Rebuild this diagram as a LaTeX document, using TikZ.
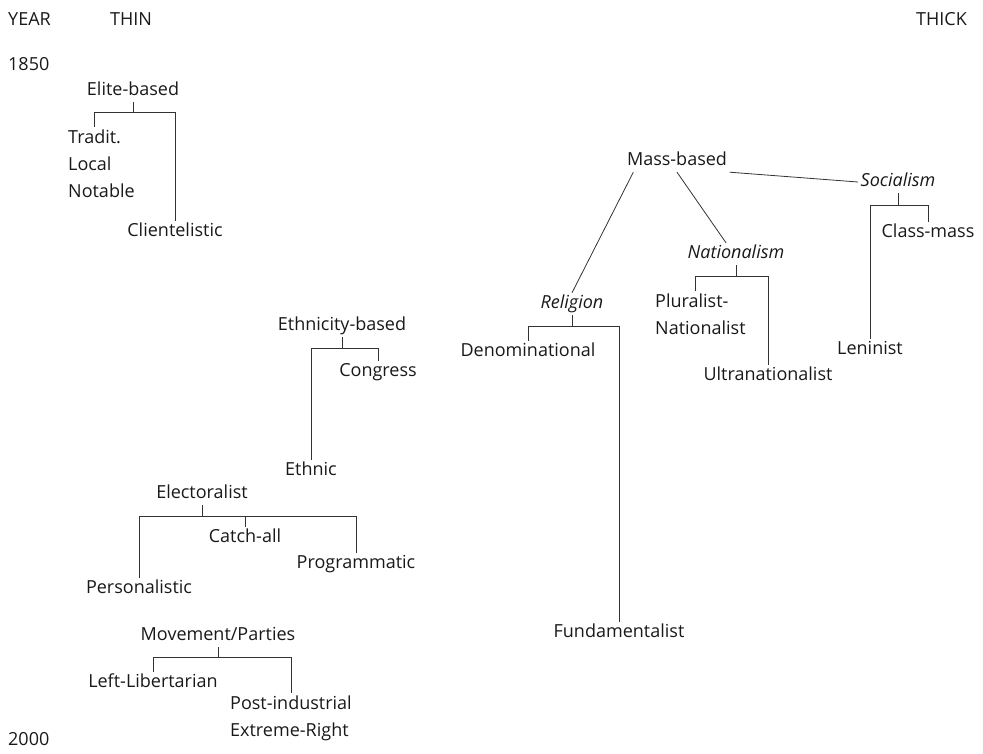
\documentclass[tikz,border=0pt]{standalone}
\usepackage{fontspec}
\setmainfont{Open Sans}

\begin{document}
\begin{tikzpicture}[
    x=1pt, y=-1pt,
    lab/.style={inner sep=2.5pt, text height=13pt, text depth=4pt, font=\fontsize{18}{27}\selectfont, text=black!90},
    labm/.style={inner sep=2.5pt, align=left, anchor=north west, font=\fontsize{18}{27}\selectfont, text=black!90},
    link/.style={draw=black!80, line width=0.8pt}
]
    \useasboundingbox (0,0) rectangle (983,753);

    % Axis labels
    \node[lab, anchor=west] (year) at (5.5,21) {YEAR};
    \node[lab, anchor=west] (thin) at (107.5,21) {THIN};
    \node[lab, anchor=east] (thick) at (969.5,21) {THICK};
    \node[lab, anchor=west] (start) at (5.5,66) {1850};
    \node[lab, anchor=west] (stop) at (5.5,741) {2000};

    % Elite-based
    \node[lab] (elite) at (133,91) {Elite-based};
    \node[labm] (trad) at (65.5,127) {Tradit.\\Local\\Notable};
    \node[lab] (clien) at (175,232) {Clientelistic};

    % Ethnicity-based
    \node[lab] (ethnb) at (342,326) {Ethnicity-based};
    \node[lab] (congr) at (378,372) {Congress};
    \node[lab] (ethnic) at (311,471) {Ethnic};

    % Electoralist
    \node[lab] (elect) at (202,494) {Electoralist};
    \node[lab] (catch) at (245,538) {Catch-all};
    \node[lab] (progr) at (356,564) {Programmatic};
    \node[lab] (perso) at (139,589) {Personalistic};

    % Movement parties
    \node[lab] (movem) at (218,636) {Movement/Parties};
    \node[lab] (leftl) at (153,683) {Left-Libertarian};
    \node[labm] (posti) at (227.5,693) {Post-industrial\\Extreme-Right};

    % Mass-based
    \node[lab] (mass) at (677,161) {Mass-based};
    \node[lab] (relig) at (572,304) {\itshape Religion};
    \node[lab] (denom) at (528,352) {Denominational};
    \node[lab] (funda) at (619,633) {Fundamentalist};
    \node[lab] (natio) at (736,254) {\itshape Nationalism};
    \node[labm] (plura) at (652.5,291) {Pluralist-\\Nationalist};
    \node[lab] (ultra) at (768,376) {Ultranationalist};
    \node[lab] (socia) at (898,182) {\itshape Socialism};
    \node[lab] (class) at (928,233) {Class-mass};
    \node[lab] (lenin) at (870,350) {Leninist};

    % Brackets
    \draw[link] (elite.south) -- ++(0,10) coordinate (eb);
    \draw[link] ([xshift=28.5pt]trad.north west) |- (eb) -| (clien.north);

    \draw[link] (ethnb.south) -- ++(0,11) coordinate (tb);
    \draw[link] (ethnic.north) |- (tb) -| (congr.north);

    \draw[link] (elect.south) -- ++(0,11) coordinate (lb);
    \draw[link] (perso.north) |- (lb) -| (progr.north);
    \draw[link] (catch.north) -- (catch.north |- lb);

    \draw[link] (movem.south) -- ++(0,10) coordinate (mb);
    \draw[link] (leftl.north) |- (mb) -| (posti.north);

    \draw[link] (relig.south) -- ++(0,11) coordinate (rb);
    \draw[link] (denom.north) |- (rb) -| (funda.north);

    \draw[link] (natio.south) -- ++(0,11) coordinate (nb);
    \draw[link] ([xshift=42.5pt]plura.north west) |- (nb) -| (ultra.north);

    \draw[link] (socia.south) -- ++(0,12) coordinate (sb);
    \draw[link] (lenin.north) |- (sb) -| (class.north);

    % Mass-based branches
    \draw[link] ([xshift=9pt]mass.south west) -- (relig.north);
    \draw[link] (mass.south) -- ([xshift=-10pt]natio.north);
    \draw[link] (mass.south east) -- (socia.west);
\end{tikzpicture}
\end{document}
